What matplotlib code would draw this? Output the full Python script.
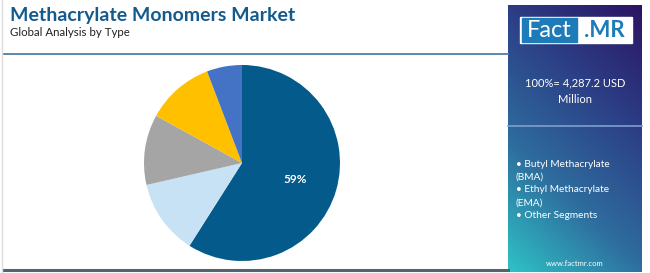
import matplotlib

matplotlib.use("Agg")
import matplotlib.pyplot as plt
import numpy as np
from matplotlib.colors import LinearSegmentedColormap
from matplotlib.patches import Rectangle

TITLE = "Methacrylate Monomers Market"
SUBTITLE = "Global Analysis by Type"
SHARES = [59.0, 12.4, 11.6, 11.2, 5.8]
COLORS = ["#055a8c", "#c6e2f4", "#a5a5a5", "#ffc000", "#4472c4"]
TOTAL_TEXT = "100%= 4,287.2 USD\nMillion"
SEGMENTS = ["Butyl Methacrylate\n(BMA)", "Ethyl Methacrylate\n(EMA)", "Other Segments"]

W, H = 650, 273
plt.rcParams["font.family"] = ["Lato", "DejaVu Sans"]

fig = plt.figure(figsize=(W / 100, H / 100), dpi=100)
fig.patch.set_facecolor("white")


def fx(px):
    return px / W


def fy(py):
    return 1 - py / H


# header
fig.text(fx(10), fy(15), TITLE, fontsize=14, fontweight="bold", color="#135b8e", va="center")
fig.text(fx(10), fy(32), SUBTITLE, fontsize=8.3, color="#222222", va="center")
fig.add_artist(plt.Line2D([fx(4), fx(508)], [fy(54), fy(54)], color="#4c7fa6", lw=1.3))
fig.add_artist(plt.Line2D([fx(3), fx(508)], [fy(270), fy(270)], color="#56626c", lw=2.2))
fig.add_artist(plt.Line2D([fx(2), fx(2)], [fy(0), fy(272)], color="#dddddd", lw=1))

# pie
cx, cy, r = 242, 163, 98
ax = fig.add_axes([fx(cx - r), fy(cy + r), fx(2 * r), (2 * r) / H])
wedges, _ = ax.pie(SHARES, colors=COLORS, startangle=90, counterclock=False,
                   wedgeprops=dict(linewidth=0))
ax.set_xlim(-1, 1)
ax.set_ylim(-1, 1)
ax.set_aspect("auto")
ax.axis("off")
mid = np.deg2rad(90 - SHARES[0] / 100 * 360 / 2)
ax.text(0.54 * np.cos(mid) + 0.02, 0.54 * np.sin(mid) - 0.02, f"{SHARES[0]:.0f}%",
        color="white", fontsize=8.5, fontweight="bold", ha="center", va="center")

# side panel with gradient
px0, px1, py0, py1 = 508, 642, 5, 272
pax = fig.add_axes([fx(px0), fy(py1), fx(px1 - px0), (py1 - py0) / H])
cmap = LinearSegmentedColormap.from_list("fm", ["#2ec2c6", "#2e6d9e", "#2c3f86", "#2b1463"])
yy, xx = np.mgrid[0:1:200j, 0:1:100j]
grad = 0.75 * yy + 0.35 * xx
pax.imshow(grad, cmap=cmap, origin="lower", extent=[0, 1, 0, 1], aspect="auto")
pax.set_xlim(0, 1)
pax.set_ylim(0, 1)
pax.axis("off")

# logo
fig.add_artist(Rectangle((fx(520), fy(43)), fx(112), (43 - 17) / H, color="white"))
fig.add_artist(Rectangle((fx(522), fy(42)), fx(55), (42 - 18) / H, color="#1c7bb8"))
fig.text(fx(549.5), fy(30.5), "Fact", fontsize=17, color="white", ha="center", va="center")
fig.text(fx(604), fy(30.5), ".MR", fontsize=16, fontweight="bold", color="#1c7bb8",
         ha="center", va="center")

fig.text(fx(575), fy(91), TOTAL_TEXT, fontsize=8, color="white", ha="center", va="center",
         linespacing=1.6)
fig.add_artist(plt.Line2D([fx(px0), fx(px1)], [fy(126), fy(126)], color="#7f9fcf", lw=1.2))
bullets = "\n".join("\u2022 " + s for s in SEGMENTS)
fig.text(fx(516), fy(190), bullets, fontsize=7.3, color="white", ha="left", va="center",
         linespacing=1.55)
fig.text(fx(575), fy(263), "www.factmr.com", fontsize=5.5, color="white", ha="center", va="center")

fig.savefig("out.png", dpi=100)
